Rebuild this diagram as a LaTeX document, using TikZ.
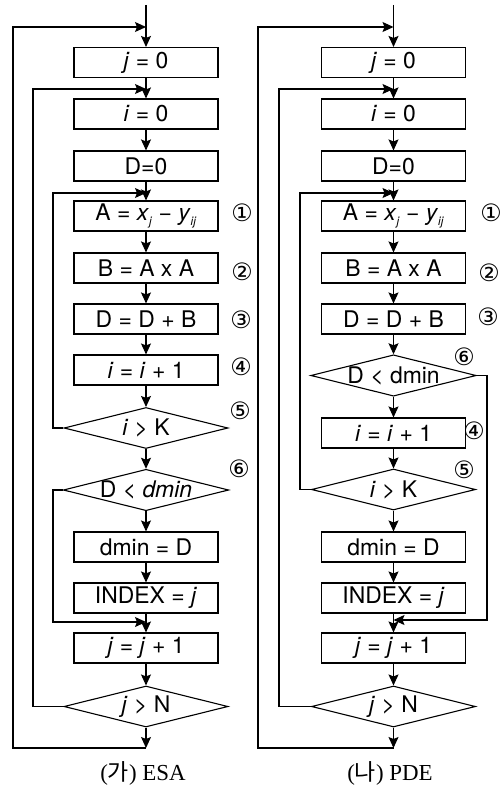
\documentclass[tikz,border=0pt]{standalone}
\usepackage{fontspec}
\setmainfont{TeX Gyre Heros}
\newfontfamily\circfont{DejaVu Sans}
\newfontfamily\krfont{Noto Sans CJK KR}
\newfontfamily\capfont{Liberation Serif}
\usetikzlibrary{arrows.meta,shapes.geometric}
\newcommand{\iv}[1]{\textit{#1}}
\newcommand{\sbs}[1]{\raisebox{-0.35ex}{\fontsize{12}{12}\selectfont\textit{#1}}}
\begin{document}
\begin{tikzpicture}[x=1bp,y=-1bp,line width=1.1bp,
  proc/.style={draw,minimum width=144bp,minimum height=30bp,inner sep=0pt,font=\fontsize{23}{23}\selectfont},
  dec/.style={draw,diamond,aspect=4,minimum width=164bp,minimum height=41bp,inner sep=0pt,font=\fontsize{23}{23}\selectfont},
  arr/.style={-{Stealth[length=11bp,width=10bp,inset=2bp]}},
  num/.style={inner sep=0pt,font=\circfont\fontsize{24}{24}\selectfont},
  capt/.style={inner sep=0pt,font=\capfont\fontsize{23}{23}\selectfont}]
\useasboundingbox (0,0) rectangle (504,789);
% ---------- left: ESA ----------
\node[proc] (lj0) at (146,62.5) {\iv{j} = 0};
\node[proc] (li0) at (146,114) {\iv{i} = 0};
\node[proc] (ld0) at (146,166) {D=0};
\node[proc] (la) at (146,216) {A = \iv{x}\sbs{j} − \iv{y}\sbs{ij}};
\node[proc] (lb) at (146,268) {B = A x A};
\node[proc] (ldb) at (146,319) {D = D + B};
\node[proc] (li1) at (146,370) {\iv{i} = \iv{i} + 1};
\node[dec] (lik) at (146,428) {\iv{i} > K};
\node[dec] (ldd) at (146,490) {D < \iv{dmin}};
\node[proc] (ldm) at (146,547) {dmin = D};
\node[proc] (lix) at (146,598) {INDEX = \iv{j}};
\node[proc] (lj1) at (146,648) {\iv{j} = \iv{j} + 1};
\node[dec] (ljn) at (146,706.5) {\iv{j} > N};
\coordinate (ltop) at (146,5);
\coordinate (lbot) at (146,748);
\coordinate (lent) at (146,27);
\coordinate (lm2) at (146,89);
\coordinate (lm3) at (146,193);
\coordinate (lm4) at (146,622);
\draw[arr] (ltop) -- (lj0);
\draw[arr] (lj0) -- (li0);
\draw[arr] (li0) -- (ld0);
\draw[arr] (ld0) -- (la);
\draw[arr] (la) -- (lb);
\draw[arr] (lb) -- (ldb);
\draw[arr] (ldb) -- (li1);
\draw[arr] (li1) -- (lik);
\draw[arr] (lik) -- (ldd);
\draw[arr] (ldd) -- (ldm);
\draw[arr] (ldm) -- (lix);
\draw[arr] (lix) -- (lj1);
\draw[arr] (lj1) -- (ljn);
\draw[arr] (ljn) -- (lbot);
\draw[arr] (lbot) -- (13,748) -- (13,27) -- (lent);
\draw[arr] (ljn.west) -- (33,706.5) -- (33,89) -- (lm2);
\draw[arr] (lik.west) -- (53,428) -- (53,193) -- (lm3);
\draw[arr] (ldd.west) -- (53,490) -- (53,622) -- (lm4);
\node[num] (ln1) at (242,213) {①};
\node[num] (ln2) at (242,272) {②};
\node[num] (ln3) at (241,320) {③};
\node[num] (ln4) at (241,367) {④};
\node[num] (ln5) at (240,411) {⑤};
\node[num] (ln6) at (239,469) {⑥};
\node[capt] (lcap) at (143,773) {({\krfont 가}) ESA};
% ---------- right: PDE ----------
\node[proc] (rj0) at (393.5,62.5) {\iv{j} = 0};
\node[proc] (ri0) at (393.5,114) {\iv{i} = 0};
\node[proc] (rd0) at (393.5,166) {D=0};
\node[proc] (ra) at (393.5,216) {A = \iv{x}\sbs{j} − \iv{y}\sbs{ij}};
\node[proc] (rb) at (393.5,268) {B = A x A};
\node[proc] (rdb) at (393.5,319) {D = D + B};
\node[dec] (rdd) at (393.5,375.5) {D < dmin};
\node[proc] (ri1) at (393.5,433) {\iv{i} = \iv{i} + 1};
\node[dec] (rik) at (393.5,489.5) {\iv{i} > K};
\node[proc] (rdm) at (393.5,547) {dmin = D};
\node[proc] (rix) at (393.5,598) {INDEX = \iv{j}};
\node[proc] (rj1) at (393.5,648) {\iv{j} = \iv{j} + 1};
\node[dec] (rjn) at (393.5,706.5) {\iv{j} > N};
\coordinate (rtop) at (393.5,5);
\coordinate (rbot) at (393.5,748);
\coordinate (rent) at (393.5,27);
\coordinate (rm2) at (393.5,89);
\coordinate (rm3) at (393.5,193);
\coordinate (rm4) at (393.5,620);
\draw[arr] (rtop) -- (rj0);
\draw[arr] (rj0) -- (ri0);
\draw[arr] (ri0) -- (rd0);
\draw[arr] (rd0) -- (ra);
\draw[arr] (ra) -- (rb);
\draw[arr] (rb) -- (rdb);
\draw[arr] (rdb) -- (rdd);
\draw[arr] (rdd) -- (ri1);
\draw[arr] (ri1) -- (rik);
\draw[arr] (rik) -- (rdm);
\draw[arr] (rdm) -- (rix);
\draw[arr] (rix) -- (rj1);
\draw[arr] (rj1) -- (rjn);
\draw[arr] (rjn) -- (rbot);
\draw[arr] (rbot) -- (258,748) -- (258,27) -- (rent);
\draw[arr] (rjn.west) -- (279,706.5) -- (279,89) -- (rm2);
\draw[arr] (rik.west) -- (300,489.5) -- (300,193) -- (rm3);
\draw[arr] (rdd.east) -- (487,375.5) -- (487,620) -- (rm4);
\node[num] (rn1) at (491,213) {①};
\node[num] (rn2) at (489,273) {②};
\node[num] (rn3) at (488,317) {③};
\node[num] (rn6) at (464,357) {⑥};
\node[num] (rn4) at (474,431) {④};
\node[num] (rn5) at (464,470) {⑤};
\node[capt] (rcap) at (390,773) {({\krfont 나}) PDE};
\end{tikzpicture}
\end{document}
